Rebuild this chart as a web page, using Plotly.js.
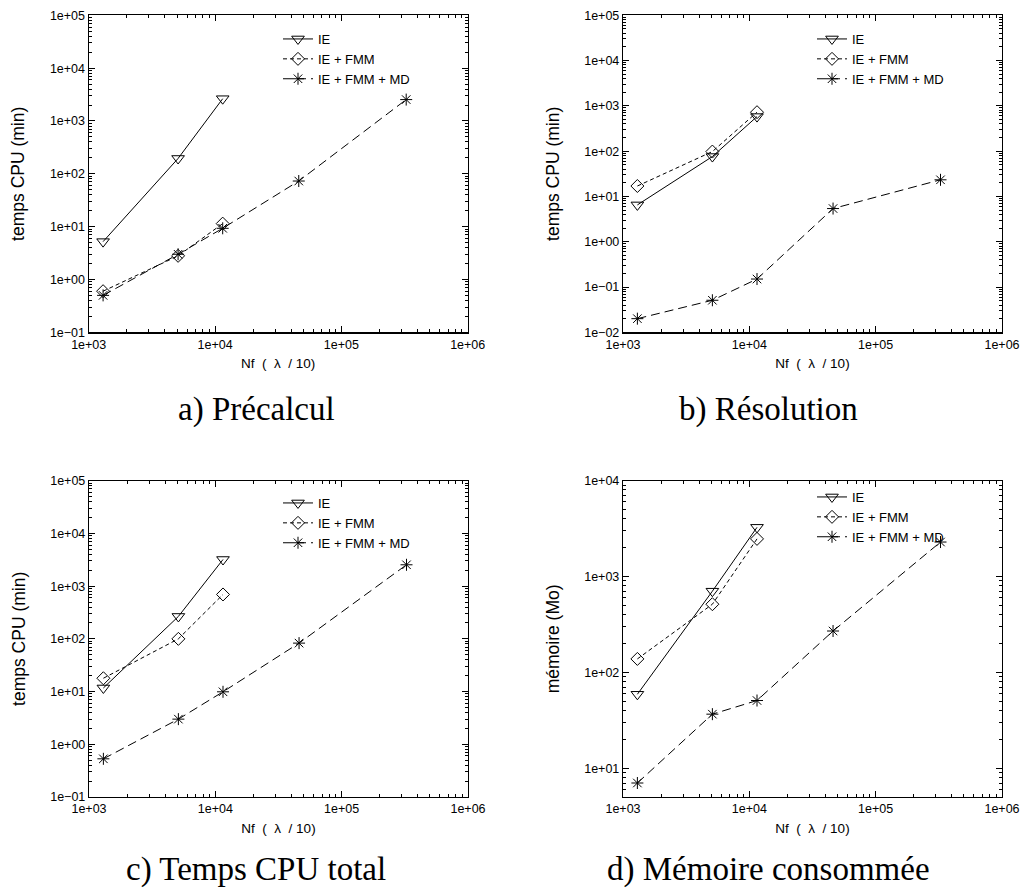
<!DOCTYPE html>
<html>
<head>
<meta charset="utf-8">
<script src="https://cdn.plot.ly/plotly-3.0.1.min.js"></script>
<style>html,body{margin:0;padding:0;background:#fff;}#chart{width:1023px;height:888px;}</style>
</head>
<body>
<div id="chart"></div>
<script>
// ---- data ----
const nf = [1300, 5100, 11500, 46000, 326000];
const nfIE = [1300, 5100, 11500];
const seriesNames = ["IE", "IE + FMM", "IE + FMM + MD"];

const precalcIE  = [5.2, 195, 2640];
const precalcFMM = [0.6, 2.8, 11.4];
const precalcMD  = [0.5, 3.0, 9.3, 73, 2540];

const resolIE  = [6.5, 76, 580];
const resolFMM = [17, 98, 725];
const resolMD  = [0.02, 0.051, 0.15, 5.4, 23.3];

const totalIE  = [11.7, 266, 3200];
const totalFMM = [17.9, 100, 695];
const totalMD  = [0.53, 3.0, 9.9, 83, 2540];

const memIE  = [59, 703, 3260];
const memFMM = [138, 514, 2470];
const memMD  = [7.0, 36.6, 50.8, 270, 2290];

const captions = ["a) Précalcul", "b) Résolution", "c) Temps CPU total", "d) Mémoire consommée"];
const yTitles = ["temps CPU (min)", "temps CPU (min)", "temps CPU (min)", "mémoire (Mo)"];
const xTitle = "Nf\u00a0\u00a0(\u00a0\u00a0λ\u00a0\u00a0/ 10)";

// ---- helpers ----
function expLabel(k){ return "1e" + (k < 0 ? "\u2212" : "+") + String(Math.abs(k)).padStart(2, "0"); }
function decadeTicks(k0, k1){ const v=[], t=[]; for(let k=k0;k<=k1;k++){ v.push(Math.pow(10,k)); t.push(expLabel(k)); } return {v,t}; }
function minorTicks(k0, k1){ const v=[]; for(let k=k0;k<k1;k++){ for(let m=2;m<=9;m++) v.push(m*Math.pow(10,k)); } return v; }

const tickFont = {family: "Liberation Sans, Arial, sans-serif", size: 12.5, color: "#000"};
const styleIE  = {line:{color:"#000", width:1, dash:"solid"}, marker:{symbol:"triangle-down-open", size:11, color:"#000", line:{color:"#000", width:1}}};
const styleFMM = {line:{color:"#000", width:1, dash:"4px,3px"}, marker:{symbol:"diamond-open", size:10, color:"#000", line:{color:"#000", width:1}}};
const styleMD  = {line:{color:"#000", width:1, dash:"9px,5px"}, marker:{symbol:"asterisk-open", size:10, color:"#000", line:{color:"#000", width:1}}};

const panels = [
  {ie: precalcIE, fmm: precalcFMM, md: precalcMD, yr: [-1, 5], yk: [-1, 5]},
  {ie: resolIE,   fmm: resolFMM,   md: resolMD,   yr: [-2, 5], yk: [-2, 5]},
  {ie: totalIE,   fmm: totalFMM,   md: totalMD,   yr: [-1, 5], yk: [-1, 5]},
  {ie: memIE,     fmm: memFMM,     md: memMD,     yr: [Math.log10(5), 4], yk: [1, 4]}
];

const W = 1023, H = 888;
const xDom = [[88.7/W, 467.7/W], [623/W, 1002/W], [89/W, 468/W], [623/W, 1002/W]];
const yDom = [[1-332.3/H, 1-15.3/H], [1-332.3/H, 1-15.3/H], [1-797/H, 1-480.7/H], [1-797/H, 1-480.7/H]];
const legPos = [[278/W, 1-24/H], [812/W, 1-24/H], [278/W, 1-488/H], [812/W, 1-482/H]];
const capPos = [[256/W, 1-409/H], [768/W, 1-409/H], [256/W, 1-869/H], [768/W, 1-869/H]];

const traces = [];
const layout = {
  width: W, height: H,
  margin: {l:0, r:0, t:0, b:0},
  paper_bgcolor: "#fff", plot_bgcolor: "#fff",
  hovermode: false,
  showlegend: true,
  annotations: []
};

panels.forEach((p, i) => {
  const n = i + 1;
  const xa = n === 1 ? "x" : "x" + n, ya = n === 1 ? "y" : "y" + n;
  const leg = n === 1 ? "legend" : "legend" + n;
  const sets = [[nfIE, p.ie, styleIE], [nfIE, p.fmm, styleFMM], [nf, p.md, styleMD]];
  sets.forEach((s, j) => {
    traces.push({type:"scatter", mode:"lines+markers", x:s[0], y:s[1], name:seriesNames[j],
      xaxis:xa, yaxis:ya, legend:leg, line:s[2].line, marker:s[2].marker, cliponaxis:false});
  });
  const xt = decadeTicks(3, 6), yt = decadeTicks(p.yk[0], p.yk[1]);
  const axisCommon = {showline:true, linecolor:"#000", linewidth:1.2, mirror:"ticks", ticks:"inside",
    ticklen:6, tickwidth:1, tickcolor:"#000", showgrid:false, zeroline:false, tickfont:tickFont, fixedrange:true};
  layout["xaxis" + (n===1?"":n)] = Object.assign({}, axisCommon, {
    type:"log", range:[3, 6], domain:xDom[i], anchor:ya,
    tickmode:"array", tickvals:xt.v, ticktext:xt.t,
    minor:{tickmode:"array", tickvals:minorTicks(3,6), ticks:"inside", ticklen:3, tickcolor:"#000", tickwidth:1, showgrid:false},
    title:{text:xTitle, font:{family:"Liberation Sans, Arial, sans-serif", size:13.5, color:"#000"}, standoff:8}
  });
  const yminK0 = Math.floor(p.yr[0]);
  layout["yaxis" + (n===1?"":n)] = Object.assign({}, axisCommon, {
    type:"log", range:p.yr, domain:yDom[i], anchor:xa,
    tickmode:"array", tickvals:yt.v, ticktext:yt.t,
    minor:{tickmode:"array", tickvals:minorTicks(yminK0, Math.ceil(p.yr[1])).filter(v => Math.log10(v) >= p.yr[0]), ticks:"inside", ticklen:3, tickcolor:"#000", tickwidth:1, showgrid:false},
    title:{text:yTitles[i], font:{family:"Liberation Sans, Arial, sans-serif", size:17.5, color:"#000"}, standoff:20}
  });
  layout[leg] = {x:legPos[i][0], y:legPos[i][1], xanchor:"left", yanchor:"top", bgcolor:"rgba(0,0,0,0)",
    borderwidth:0, font:{family:"Liberation Sans, Arial, sans-serif", size:13, color:"#000"}, tracegroupgap:0};
  layout.annotations.push({text:captions[i], xref:"paper", yref:"paper", x:capPos[i][0], y:capPos[i][1],
    xanchor:"center", yanchor:"middle", showarrow:false,
    font:{family:"Liberation Serif, Times New Roman, serif", size:33, color:"#000"}});
});

Plotly.newPlot("chart", traces, layout, {displayModeBar:false, staticPlot:true});
</script>
</body>
</html>
